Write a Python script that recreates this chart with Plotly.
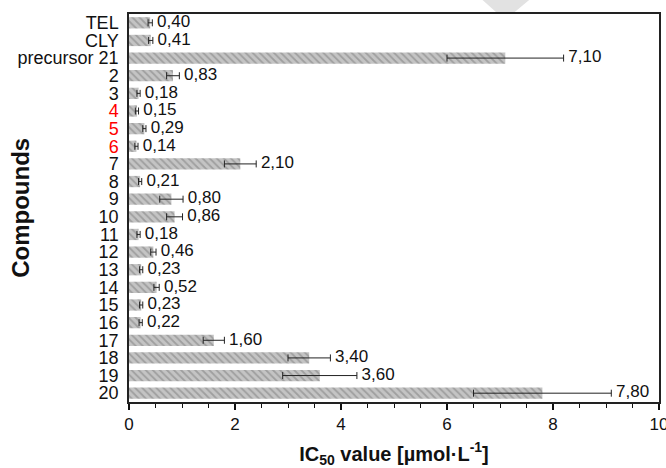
import plotly.graph_objects as go

categories = ["TEL", "CLY", "precursor 21", "2", "3", "4", "5", "6", "7", "8", "9", "10",
              "11", "12", "13", "14", "15", "16", "17", "18", "19", "20"]
values = [0.40, 0.41, 7.10, 0.83, 0.18, 0.15, 0.29, 0.14, 2.10, 0.21, 0.80, 0.86,
          0.18, 0.46, 0.23, 0.52, 0.23, 0.22, 1.60, 3.40, 3.60, 7.80]
errors = [0.04, 0.04, 1.10, 0.12, 0.03, 0.03, 0.03, 0.03, 0.30, 0.03, 0.22, 0.15,
          0.03, 0.05, 0.03, 0.05, 0.03, 0.03, 0.20, 0.40, 0.70, 1.30]
value_labels = [" " + f"{v:.2f}".replace(".", ",") for v in values]
red_labels = {"4", "5", "6"}
tick_text = [f"<span style='color:#ff0000'>{c}</span>" if c in red_labels else c for c in categories]

fig = go.Figure()
fig.add_trace(go.Bar(
    x=values, y=categories, orientation="h",
    marker=dict(color="#c4c4c4", line=dict(width=0),
                pattern=dict(shape="\\", fgcolor="#7a7a7a", bgcolor="#c4c4c4", size=5, solidity=0.35)),
    error_x=dict(type="data", array=errors, visible=True, color="#222222", thickness=1, width=3.5),
    width=0.64, showlegend=False, hoverinfo="skip",
))
fig.add_trace(go.Scatter(
    x=[v + e for v, e in zip(values, errors)], y=categories, mode="text",
    text=value_labels, textposition="middle right",
    textfont=dict(family="Liberation Sans, Arial", size=17, color="#111111"),
    showlegend=False, hoverinfo="skip", cliponaxis=False,
))

fig.add_shape(type="path", xref="paper", yref="paper",
              path="M 0.667 1.036 L 0.755 1.036 L 0.725 1.002 L 0.695 1.002 Z",
              fillcolor="#e2e2e2", line=dict(width=0), layer="below")

fig.add_annotation(text="<b>Compounds</b>", xref="paper", yref="paper",
                   x=-0.206, y=0.5, xanchor="center", yanchor="middle",
                   textangle=-90, showarrow=False,
                   font=dict(family="Liberation Sans, Arial", size=24, color="#111111"))

fig.update_layout(
    width=666, height=468,
    margin=dict(l=129, r=7, t=14, b=66, autoexpand=False),
    plot_bgcolor="white", paper_bgcolor="white",
    font=dict(family="Liberation Sans, Arial", size=17, color="#111111"),
    xaxis=dict(
        range=[0, 10], tickvals=[0, 2, 4, 6, 8, 10], ticktext=["0", "2", "4", "6", "8", "10"],
        ticks="outside", ticklen=6, tickwidth=2, tickcolor="#111111",
        minor=dict(dtick=0.5, ticks="outside", ticklen=4, tickwidth=1, tickcolor="#111111"),
        showline=True, linecolor="#222222", linewidth=1.5, mirror=True,
        showgrid=False, zeroline=False, ticklabeloverflow="allow",
        tickfont=dict(size=17),
        title=dict(text="<b>IC<sub>50</sub> value [µmol·L<sup>-1</sup>]</b>", font=dict(size=20), standoff=18),
    ),
    yaxis=dict(
        categoryorder="array", categoryarray=categories,
        tickvals=categories, ticktext=tick_text,
        range=[len(categories) - 0.5, -0.5], autorange=False,
        showline=True, linecolor="#222222", linewidth=1.5, mirror=True,
        ticks="", showgrid=False, zeroline=False, ticklabelstandoff=5,
        tickfont=dict(size=18),
    ),
)
fig.write_html("out.html", config={"displayModeBar": False},
               post_script="document.body.style.margin='0';document.body.style.overflow='hidden';")
